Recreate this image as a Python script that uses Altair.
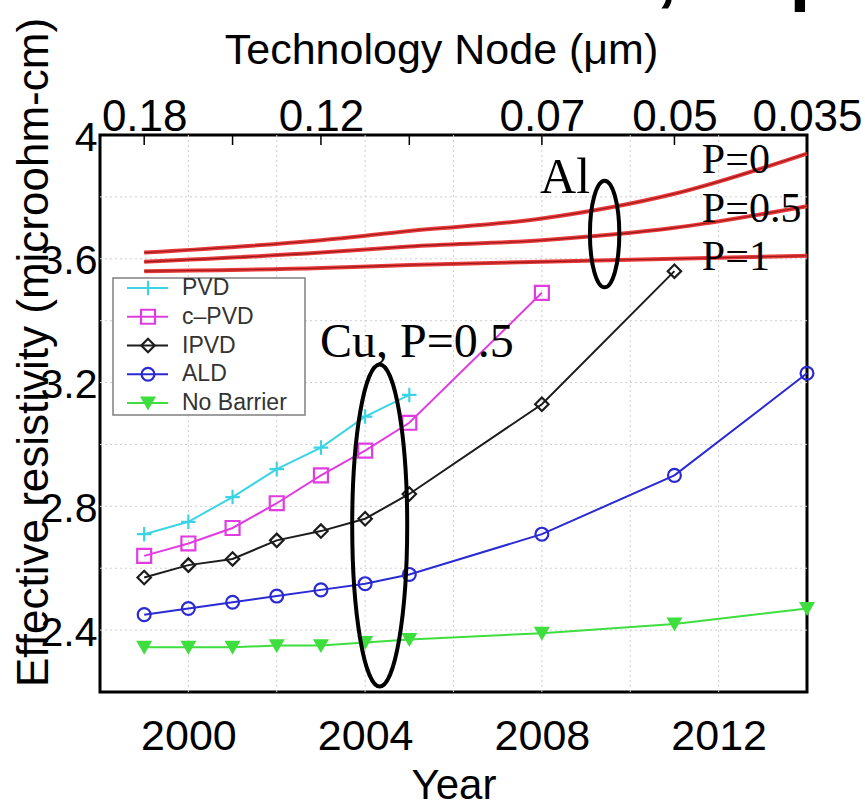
import altair as alt
import pandas as pd

# ---- Cu interconnect series: effective resistivity (microohm-cm) by year ----
series_names = ["PVD", "c–PVD", "IPVD", "ALD", "No Barrier"]

early_years = [1999, 2000, 2001, 2002, 2003, 2004, 2005]

pvd_years = early_years
pvd_vals = [2.71, 2.75, 2.83, 2.92, 2.99, 3.09, 3.16]

cpvd_years = early_years + [2008]
cpvd_vals = [2.64, 2.68, 2.73, 2.81, 2.90, 2.98, 3.07, 3.49]

ipvd_years = early_years + [2008, 2011]
ipvd_vals = [2.57, 2.61, 2.63, 2.69, 2.72, 2.76, 2.84, 3.13, 3.56]

ald_years = early_years + [2008, 2011, 2014]
ald_vals = [2.45, 2.47, 2.49, 2.51, 2.53, 2.55, 2.58, 2.71, 2.90, 3.23]

nobarrier_years = early_years + [2008, 2011, 2014]
nobarrier_vals = [2.345, 2.345, 2.345, 2.35, 2.35, 2.36, 2.37, 2.39, 2.42, 2.47]

# ---- Al reference curves for specularity P ----
al_curve_names = ["P=0", "P=0.5", "P=1"]
al_years = [1999, 2003, 2005, 2008, 2011, 2014]
al_p0_vals = [3.62, 3.66, 3.69, 3.73, 3.81, 3.94]
al_p05_vals = [3.59, 3.62, 3.64, 3.66, 3.70, 3.77]
al_p1_vals = [3.56, 3.57, 3.58, 3.59, 3.60, 3.61]

# ---- axes ----
year_ticks = [2000, 2004, 2008, 2012]
resistivity_ticks = [2.4, 2.8, 3.2, 3.6, 4.0]
grid_years = [2000, 2002, 2004, 2006, 2008, 2010, 2012]
grid_resistivity = [2.4, 2.6, 2.8, 3.0, 3.2, 3.4, 3.6, 3.8]

node_tick_years = [1999, 2001, 2003, 2005, 2008, 2011, 2014]
node_label_years = [1999, 2003, 2008, 2011, 2014]
node_labels = ["0.18", "0.12", "0.07", "0.05", "0.035"]

# ---- annotations ----
annot_texts = ["Al", "Cu, P=0.5", "P=0", "P=0.5", "P=1"]
annot_years = [2007.96, 2002.98, 2011.62, 2011.62, 2011.62]
annot_vals = [3.813, 3.283, 3.877, 3.719, 3.564]

ellipse_years = [2004.33, 2009.42]
ellipse_vals = [2.738, 3.680]

# slide heading, split in two pieces around the comma
heading_parts = ["Resistance,", "Impact"]

# ---------------------------------------------------------------------------
SANS = "Liberation Sans"
SERIF = "Liberation Serif"

series_colors = ["#3cd4e4", "#e03ce0", "#1c1c1c", "#2a2ad4", "#3ede3e"]
series_shapes = ["M-1,0H1M0,-1V1", "square", "diamond", "circle", "triangle-down"]
series_fills = ["transparent", "transparent", "transparent", "transparent", "#3ede3e"]
series_sizes = [210, 150, 190, 170, 200]
series_widths = [2.0, 2.0, 2.0, 2.0, 3.0]

frames = []
for name, yrs, vals in zip(
    series_names,
    [pvd_years, cpvd_years, ipvd_years, ald_years, nobarrier_years],
    [pvd_vals, cpvd_vals, ipvd_vals, ald_vals, nobarrier_vals],
):
    frames.append(pd.DataFrame({"series": name, "year": yrs, "value": vals}))
cu_df = pd.concat(frames, ignore_index=True)

al_df = pd.concat(
    [
        pd.DataFrame({"curve": c, "year": al_years, "value": v})
        for c, v in zip(al_curve_names, [al_p0_vals, al_p05_vals, al_p1_vals])
    ],
    ignore_index=True,
)

annot_df = pd.DataFrame(
    {"text": annot_texts, "year": annot_years, "value": annot_vals,
     "fsize": [50, 48, 42, 42, 42]}
)


def ellipse_path(aspect):
    return f"M0,-1A{aspect},1 0 1,1 0,1A{aspect},1 0 1,1 0,-1Z"


ellipse_df = pd.DataFrame(
    {
        "year": ellipse_years,
        "value": ellipse_vals,
        "path": [ellipse_path(27.5 / 161), ellipse_path(14.7 / 53.3)],
        "size": [(2 * 161) ** 2, (2 * 53.3) ** 2],
    }
)

x_scale = alt.Scale(domain=[1998, 2014], nice=False, zero=False)
y_scale = alt.Scale(domain=[2.2, 4.0], nice=False, zero=False)

color_enc = alt.Color(
    "series:N", scale=alt.Scale(domain=series_names, range=series_colors), legend=None
)
shape_enc = alt.Shape(
    "series:N", scale=alt.Scale(domain=series_names, range=series_shapes), legend=None
)
fill_enc = alt.Fill(
    "series:N", scale=alt.Scale(domain=series_names, range=series_fills), legend=None
)
size_enc = alt.Size(
    "series:N", scale=alt.Scale(domain=series_names, range=series_sizes), legend=None
)
width_enc = alt.StrokeWidth(
    "series:N", scale=alt.Scale(domain=series_names, range=series_widths), legend=None
)

bottom_axis = alt.Axis(
    orient="bottom",
    values=year_ticks,
    format="d",
    labelFont=SANS,
    labelFontSize=43,
    labelColor="black",
    labelPadding=23,
    labelFlush=False,
    labelOverlap=False,
    ticks=False,
    domain=False,
    grid=False,
    title="Year",
    titleFont=SANS,
    titleFontSize=42,
    titleFontWeight="normal",
    titleColor="black",
    titleBaseline="top",
    titleY=73,
)

left_axis = alt.Axis(
    orient="left",
    values=resistivity_ticks,
    format="~g",
    labelFont=SANS,
    labelFontSize=41,
    labelColor="black",
    labelAlign="right",
    labelBaseline="middle",
    labelPadding=3,
    labelOffset=3,
    labelFlush=True,
    labelOverlap=False,
    ticks=False,
    domain=False,
    grid=False,
    title="Effective resistivity (microohm-cm)",
    titleFont=SANS,
    titleFontSize=44,
    titleFontWeight="normal",
    titleColor="black",
    titleAngle=270,
    titleAlign="center",
    titleBaseline="alphabetic",
    titleX=-53,
    titleY=217,
)

node_expr = " : ".join(
    f"datum.value == {y} ? '{lab}'" for y, lab in zip(node_label_years, node_labels)
) + " : ''"

top_axis = alt.Axis(
    orient="top",
    values=node_label_years,
    labelExpr=node_expr,
    labelFont=SANS,
    labelFontSize=44,
    labelColor="black",
    labelBaseline="alphabetic",
    labelPadding=5,
    labelFlush=False,
    labelOverlap=False,
    ticks=False,
    domain=False,
    grid=False,
    title="Technology Node (μm)",
    titleFont=SANS,
    titleFontSize=43,
    titleFontWeight="normal",
    titleColor="black",
    titleBaseline="alphabetic",
    titleX=341,
    titleY=-72,
)

# light dotted grid; these two layers also carry the bottom and left axes
grid_v = alt.Chart(pd.DataFrame({"year": grid_years})).mark_rule(
    color="#cfcfcf", strokeDash=[2, 3], strokeWidth=1
).encode(x=alt.X("year:Q", scale=x_scale, axis=bottom_axis))

grid_h = alt.Chart(pd.DataFrame({"value": grid_resistivity})).mark_rule(
    color="#cfcfcf", strokeDash=[2, 3], strokeWidth=1
).encode(y=alt.Y("value:Q", scale=y_scale, axis=left_axis))

# Al curves: red band with a darker core
al_base = alt.Chart(al_df).encode(
    x=alt.X("year:Q", scale=x_scale, axis=None),
    y=alt.Y("value:Q", scale=y_scale, axis=None),
    detail="curve:N",
)
al_outer = al_base.mark_line(interpolate="monotone", color="#e8393a", strokeWidth=4)
al_inner = al_base.mark_line(interpolate="monotone", color="#9a1818", strokeWidth=1.1)

cu_base = alt.Chart(cu_df).encode(
    x=alt.X("year:Q", scale=x_scale, axis=None),
    y=alt.Y("value:Q", scale=y_scale, axis=None),
)
cu_lines = cu_base.mark_line().encode(color=color_enc, strokeWidth=width_enc, detail="series:N")
cu_points = cu_base.mark_point(filled=False, strokeWidth=2.2, opacity=1).encode(
    shape=shape_enc, stroke=color_enc, fill=fill_enc, size=size_enc
)

ellipses = alt.Chart(ellipse_df).mark_point(
    filled=False, stroke="black", strokeWidth=4, opacity=1
).encode(
    x=alt.X("year:Q", scale=x_scale, axis=None),
    y=alt.Y("value:Q", scale=y_scale, axis=None),
    shape=alt.Shape("path:N", scale=None),
    size=alt.Size("size:Q", scale=None),
)

annotations = alt.Chart(annot_df).mark_text(
    font=SERIF, align="left", baseline="alphabetic", color="black"
).encode(
    x=alt.X("year:Q", scale=x_scale, axis=None),
    y=alt.Y("value:Q", scale=y_scale, axis=None),
    text="text:N",
    size=alt.Size("fsize:Q", scale=None),
)

# technology-node ticks along the top edge, carrying the top axis
top_ticks = alt.Chart(pd.DataFrame({"year": node_tick_years})).mark_rule(
    color="black", strokeWidth=1.5
).encode(
    x=alt.X("year:Q", scale=x_scale, axis=top_axis),
    y=alt.value(0),
    y2=alt.value(10),
)

# legend box
legend_df = pd.DataFrame({"series": series_names, "slot": list(range(len(series_names)))})
slot_y = alt.Y("slot:Q", scale=alt.Scale(domain=[0, 4], range=[153, 268]), axis=None)

legend_box = alt.Chart(pd.DataFrame({"k": [0]})).mark_rect(
    fill="white", stroke="#808080", strokeWidth=1.5
).encode(x=alt.value(13), x2=alt.value(205), y=alt.value(143), y2=alt.value(280))

legend_lines = alt.Chart(legend_df).mark_rule().encode(
    x=alt.value(27), x2=alt.value(68), y=slot_y, color=color_enc, strokeWidth=width_enc
)
legend_points = alt.Chart(legend_df).mark_point(filled=False, strokeWidth=2.2, opacity=1).encode(
    x=alt.value(48), y=slot_y, shape=shape_enc, stroke=color_enc, fill=fill_enc, size=size_enc
)
legend_text = alt.Chart(legend_df).mark_text(
    font=SANS, fontSize=23, align="left", baseline="middle", color="#333333"
).encode(x=alt.value(82), y=slot_y, text="series:N")

# slide heading, mostly above the visible page
heading_style = dict(font=SANS, fontSize=75, fontWeight="bold",
                     baseline="alphabetic", color="black")
heading_left = alt.Chart(pd.DataFrame({"t": [heading_parts[0]]})).mark_text(
    align="right", **heading_style
).encode(x=alt.value(577), y=alt.value(-138), text="t:N")
heading_right = alt.Chart(pd.DataFrame({"t": [heading_parts[1]]})).mark_text(
    align="left", **heading_style
).encode(x=alt.value(602), y=alt.value(-138), text="t:N")

chart = (
    alt.layer(
        grid_v, grid_h, al_outer, al_inner, cu_lines, cu_points, ellipses, annotations,
        top_ticks, legend_box, legend_lines, legend_points, legend_text,
        heading_left, heading_right,
    )
    .resolve_scale(y="independent")
    .resolve_axis(x="independent", y="independent")
    .properties(
        width=707,
        height=557,
        autosize=alt.AutoSizeParams(type="none"),
        padding={"left": 100, "top": 135, "right": 58, "bottom": 117},
        background="white",
    )
    .configure_view(stroke="black", strokeWidth=3)
)

chart.save("out.html", embed_options={"renderer": "svg", "actions": False})
